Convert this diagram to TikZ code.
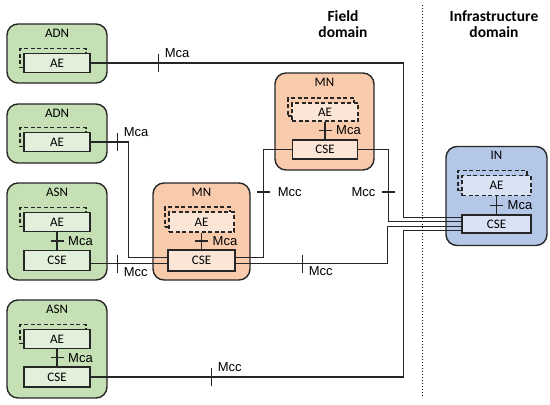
\documentclass[tikz,border=0pt]{standalone}
\usepackage{fontspec}
\setmainfont{Carlito}
\newfontfamily\ifacefont{Liberation Sans}
\usetikzlibrary{positioning}

\definecolor{grnOut}{RGB}{197,224,180}
\definecolor{grnIn}{RGB}{226,239,218}
\definecolor{orgOut}{RGB}{248,203,173}
\definecolor{orgIn}{RGB}{251,229,214}
\definecolor{bluOut}{RGB}{180,199,231}
\definecolor{bluIn}{RGB}{218,227,243}

\begin{document}
\begin{tikzpicture}[x=1pt, y=-1pt,
    every node/.style={inner sep=0pt},
    nodebox/.style={draw=black!85, line width=1.4pt, rounded corners=11pt},
    title/.style={font=\fontsize{13}{14}\selectfont},
    entity/.style={draw=black!85, line width=1.1pt, minimum width=66pt, minimum height=19pt, font=\fontsize{13}{14}\selectfont},
    ghost/.style={entity, dash pattern=on 4pt off 2.5pt},
    link/.style={draw=black!85, line width=1.2pt},
    iface/.style={font=\ifacefont\fontsize{13}{14}\selectfont},
    domainlbl/.style={font=\bfseries\fontsize{15.5}{16.5}\selectfont, align=center}]
\useasboundingbox (0,0) rectangle (550,405);
% --- domini ---
\node[domainlbl] (fld) at (343,24) {Field\\domain};
\node[domainlbl] (infra) at (494,24) {Infrastructure\\domain};
\coordinate (sepTop) at (422,5);
\coordinate (sepBot) at (422,397);
\draw[dotted, line width=1pt] (sepTop) -- (sepBot);
% --- nodi ---
\node[nodebox, fill=grnOut, minimum width=100pt, minimum height=59pt] (adnA) at (57,53.5) {};
\node[nodebox, fill=grnOut, minimum width=100pt, minimum height=59pt] (adnB) at (57,133.5) {};
\node[nodebox, fill=grnOut, minimum width=100pt, minimum height=97pt] (asnA) at (57,231.5) {};
\node[nodebox, fill=grnOut, minimum width=100pt, minimum height=98pt] (asnB) at (57,349) {};
\node[nodebox, fill=orgOut, minimum width=97pt, minimum height=97pt] (mnA) at (201.5,231.5) {};
\node[nodebox, fill=orgOut, minimum width=99pt, minimum height=97pt] (mnB) at (324.5,121.5) {};
\node[nodebox, fill=bluOut, minimum width=101pt, minimum height=99pt] (inode) at (496.5,196) {};
\foreach \n/\t in {adnA/ADN, adnB/ADN, asnA/ASN, asnB/ASN, mnA/MN, mnB/MN, inode/IN}
    \node[title] (\n t) at ([yshift=-10pt]\n.north) {\t};
% --- AE e CSE ---
\node[ghost] (adnAsh) at (53,58) {};
\node[entity, fill=grnIn] (adnAae) at (57,63) {AE};
\node[ghost] (adnBsh) at (53,137) {};
\node[entity, fill=grnIn] (adnBae) at (57,142) {AE};
\node[ghost] (asnAsh) at (53,217) {};
\node[entity, fill=grnIn] (asnAae) at (57,222) {AE};
\node[entity, fill=grnIn, minimum height=20pt] (asnAcse) at (57,260.5) {CSE};
\node[ghost] (asnBsh) at (53,334) {};
\node[entity, fill=grnIn] (asnBae) at (57,339) {AE};
\node[entity, fill=grnIn, minimum height=20pt] (asnBcse) at (57,377) {CSE};
\node[ghost, minimum width=65pt, minimum height=20pt] (mnAsh) at (197.5,217) {};
\node[ghost, fill=orgIn, minimum width=65pt, minimum height=20pt] (mnAae) at (201.5,222) {AE};
\node[entity, fill=orgIn, minimum width=67pt, minimum height=21pt] (mnAcse) at (201.5,260.5) {CSE};
\node[ghost, minimum height=18pt] (mnBsh) at (321,107) {};
\node[ghost, fill=orgIn, minimum height=18pt] (mnBae) at (325,112) {AE};
\node[entity, fill=orgIn, minimum width=65pt] (mnBcse) at (325,149.5) {CSE};
\node[ghost, minimum width=69pt, minimum height=20pt] (insh) at (492.5,180.5) {};
\node[ghost, fill=bluIn, minimum width=69pt, minimum height=20pt] (inae) at (496.5,185.5) {AE};
\node[entity, fill=bluIn, minimum width=69pt, minimum height=18pt] (incse) at (496.5,224) {CSE};
% --- punti di ingresso ---
\coordinate (inA) at ([yshift=6.75pt]incse.west);
\coordinate (inB) at ([yshift=2.25pt]incse.west);
\coordinate (inC) at ([yshift=-2.25pt]incse.west);
\coordinate (inD) at ([yshift=-6.75pt]incse.west);
\coordinate (mnAin1) at ([yshift=3pt]mnAcse.west);
\coordinate (mnAin2) at ([yshift=-3pt]mnAcse.west);
\coordinate (mnAout1) at ([yshift=3pt]mnAcse.east);
\coordinate (mnAout2) at ([yshift=-3pt]mnAcse.east);
% --- collegamenti ---
\draw[link] (adnAae.east) -- ++(68pt,0) coordinate (tkA) -| ([xshift=-58pt]inA) -- (inA);
\draw[link] (adnBae.east) -- ++(27pt,0) coordinate (tkB) -| ([xshift=-39pt]mnAin1) -- (mnAin1);
\draw[link] (asnAcse.east |- mnAin2) -- ++(27pt,0) coordinate (tkC) -- (mnAin2);
\draw[link] (mnAout1) -- ++(28pt,0) -- ++(0,65.5pt) coordinate (tkD) |- (mnBcse.west);
\draw[link] (mnAout2) -- ++(67pt,0) coordinate (tkE) -| ([xshift=-74pt]inC) -- (inC);
\draw[link] (mnBcse.east) -- ++(30.5pt,0) -- ++(0,-42.5pt) coordinate (tkF) |- (inB);
\draw[link] (asnBcse.east) -- ++(121pt,0) coordinate (tkG) -| ([xshift=-58pt]inD) -- (inD);
\foreach \n in {asnA, asnB, mnA, mnB, in}
    \draw[link] (\n ae) -- coordinate[midway] (\n m) (\n cse);
% --- tacche ---
\foreach \c in {tkA, tkB, tkC, tkE, tkG}
    \draw[link] ([yshift=9pt]\c) -- ([yshift=-9pt]\c);
\foreach \c in {tkD, tkF, asnAm, asnBm, mnAm, mnBm, inm}
    \draw[link] ([xshift=-6.5pt]\c) -- ([xshift=6.5pt]\c);
% --- etichette ---
\node[iface, above right=5pt and 6pt of tkA] (lbA) {Mca};
\node[iface, above right=5pt and 6pt of tkB] (lbB) {Mca};
\node[iface, below right=4pt and 6pt of tkC] (lbC) {Mcc};
\node[iface, right=14pt of tkD] (lbD) {Mcc};
\node[iface, below right=3pt and 6pt of tkE] (lbE) {Mcc};
\node[iface, left=13pt of tkF] (lbF) {Mcc};
\node[iface, above right=5pt and 6pt of tkG] (lbG) {Mcc};
\foreach \c in {asnAm, asnBm, mnAm, mnBm, inm}
    \node[iface, right=11pt of \c] (\c l) {Mca};
\end{tikzpicture}
\end{document}
